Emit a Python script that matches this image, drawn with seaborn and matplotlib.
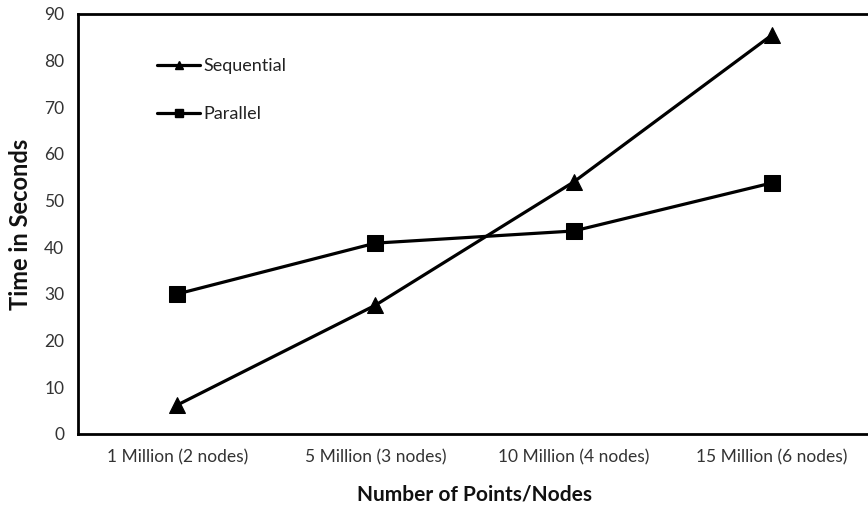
import matplotlib
matplotlib.use("Agg")
import matplotlib.pyplot as plt
from matplotlib.lines import Line2D
import seaborn as sns
import pandas as pd

categories = ["1 Million (2 nodes)", "5 Million (3 nodes)",
              "10 Million (4 nodes)", "15 Million (6 nodes)"]
sequential = [6.2, 27.6, 54.0, 85.5]
parallel = [30.0, 40.9, 43.5, 53.8]
y_ticks = [0, 10, 20, 30, 40, 50, 60, 70, 80, 90]

df = pd.DataFrame({
    "Points": categories * 2,
    "Time": sequential + parallel,
    "Method": ["Sequential"] * 4 + ["Parallel"] * 4,
})

sns.set_style("white")
plt.rcParams["font.family"] = ["Lato", "DejaVu Sans"]

fig = plt.figure(figsize=(8.68, 5.05), dpi=100)
ax = fig.add_axes([0.0899, 0.1406, 0.9136, 0.8317])

sns.lineplot(data=df, x="Points", y="Time", hue="Method", style="Method",
             markers={"Sequential": "^", "Parallel": "s"}, dashes=False,
             palette={"Sequential": "black", "Parallel": "black"},
             linewidth=2.3, markersize=11, markeredgecolor="black",
             sort=False, ax=ax, legend=False)

ax.set_xlim(-0.5, 3.5)
ax.set_ylim(0, 90)
ax.set_yticks(y_ticks)
ax.tick_params(axis="both", length=0, labelsize=12.5, colors="#333333")
ax.tick_params(axis="x", pad=11)
ax.tick_params(axis="y", pad=10)

for side in ["left", "bottom", "top", "right"]:
    ax.spines[side].set_color("black")
    ax.spines[side].set_linewidth(2.0)

ax.set_xlabel("Number of Points/Nodes", fontsize=15, fontweight="bold",
              labelpad=14, color="#111111")
ax.set_ylabel("Time in Seconds", fontsize=17, fontweight="bold",
              labelpad=9, color="#111111")

handles = [
    Line2D([], [], color="black", lw=2.3, marker="^", markersize=6),
    Line2D([], [], color="black", lw=2.3, marker="s", markersize=6),
]
ax.legend(handles, ["Sequential", "Parallel"], loc="upper left",
          bbox_to_anchor=(0.079, 0.933), frameon=False, fontsize=13,
          handlelength=2.4, handletextpad=0.15, labelspacing=1.75,
          labelcolor="#222222")

fig.savefig("out.png", dpi=100)
